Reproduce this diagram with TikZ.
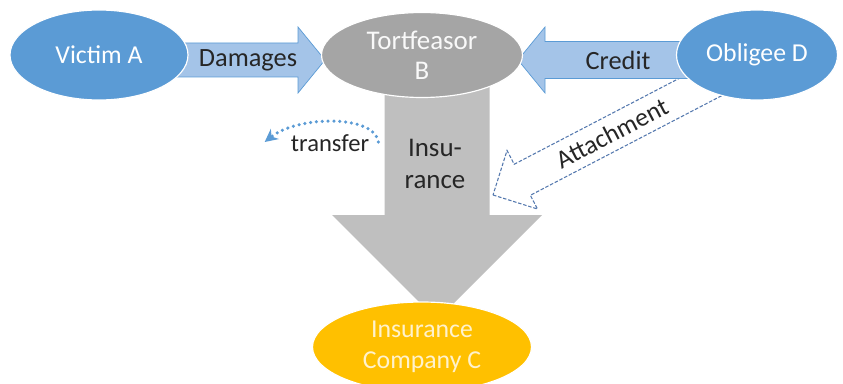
\documentclass[tikz,border=0pt]{standalone}
\usepackage{fontspec}
\setmainfont{Carlito}
\usetikzlibrary{shapes,arrows.meta,positioning,calc}

\definecolor{partyblue}{HTML}{5B9BD5}
\definecolor{flowblue}{HTML}{A4C4E8}
\definecolor{tortgray}{HTML}{A5A5A5}
\definecolor{insgray}{HTML}{BFBFBF}
\definecolor{insgold}{HTML}{FFC000}
\definecolor{insyellow}{HTML}{FFF2CC}
\definecolor{dashblue}{HTML}{5478AE}
\definecolor{inktext}{HTML}{262626}

\tikzset{
  party/.style={ellipse, draw=white, line width=1pt, inner sep=0pt, align=center,
    font=\fontsize{22}{26}\selectfont},
  flow/.style={fill=flowblue, draw=partyblue, line width=0.6pt},
  attach/.style={fill=white, draw=dashblue, line width=0.9pt, dash pattern=on 3pt off 1.5pt},
  flowtext/.style={text=inktext, font=\fontsize{22.5}{26}\selectfont},
  handover/.style={draw=partyblue, line width=3pt, line cap=round,
    dash pattern=on 0pt off 5pt, -{Stealth[length=11pt,width=11pt]}}
}

\begin{document}
\begin{tikzpicture}[x=0.03cm,y=0.03cm]
\useasboundingbox (0,0) rectangle (843,383);
\clip (0,0) rectangle (843,383);

% Arrow tips
\coordinate (instip) at (437,63);
\coordinate (atttip) at (493,188);
\coordinate (dmgtip) at (325,323);
\coordinate (credtip) at (518,323);

% Insurance (big arrow down)
\begin{scope}[shift={(instip)}, rotate=-90]
\fill[insgray] (0,0) -- (-105,105) -- (-105,52.5) -- (-237,52.5) -- (-237,-52.5) -- (-105,-52.5) -- (-105,-105) -- cycle;
\end{scope}

% Attachment (dashed)
\begin{scope}[shift={(atttip)}, rotate=207.5]
\draw[attach] (0,0) -- (-33,33) -- (-33,17.5) -- (-255,17.5) -- (-255,-17.5) -- (-33,-17.5) -- (-33,-33) -- cycle;
\node[flowtext, font=\fontsize{22}{26}\selectfont, rotate=27.5] (att) at (-134,0) {Attachment};
\end{scope}

% Damages
\begin{scope}[shift={(dmgtip)}]
\draw[flow] (0,0) -- (-27,33) -- (-27,17) -- (-155,17) -- (-155,-17) -- (-27,-17) -- (-27,-33) -- cycle;
\end{scope}

% Credit
\begin{scope}[shift={(credtip)}, rotate=180]
\draw[flow] (0,0) -- (-27,33) -- (-27,18.5) -- (-180,18.5) -- (-180,-18.5) -- (-27,-18.5) -- (-27,-33) -- cycle;
\end{scope}

% Parties
\node[party, fill=partyblue, text=white, minimum width=5.34cm, minimum height=2.7cm] (victim) at (99,328) {Victim A};
\node[party, fill=tortgray, text=white!95!gray, font=\fontsize{23}{26}\selectfont, minimum width=6.03cm, minimum height=2.55cm] (tort) at (422,328) {Tortfeasor\\B};
\node[party, fill=partyblue, text=white, minimum width=4.83cm, minimum height=2.7cm] (obligee) at (757,328) {Obligee D};
\node[party, fill=insgold, text=insyellow, minimum width=6.57cm, minimum height=2.7cm] (insurer) at (422,36) {Insurance\\Company C};

% Labels
\node[flowtext] (dmg) at (248,323) {Damages};
\node[flowtext] (cred) at (618,323) {Credit};
\node[flowtext, align=center, font=\fontsize{23}{28}\selectfont] (insu) at (435,219) {Insu-\\rance};
\node[flowtext, font=\fontsize{21}{26}\selectfont, inner sep=0pt] (trans) at (330,240) {transfer};

% transfer
\draw[handover] ([shift={(9,1)}]trans.east) .. controls +(-3,27) and +(34,27) .. ([shift={(-26,1)}]trans.west);

\end{tikzpicture}
\end{document}
